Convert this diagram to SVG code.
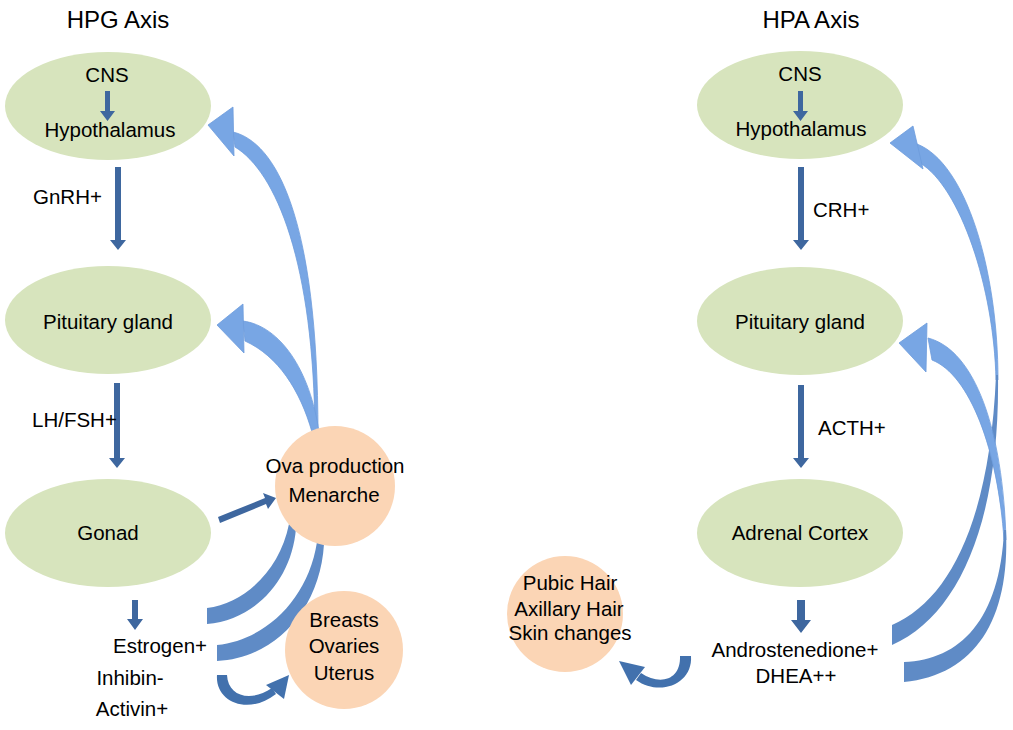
<svg xmlns="http://www.w3.org/2000/svg" width="1013" height="730" viewBox="0 0 1013 730">
<defs>
<style>
text{font-family:"Liberation Sans",Arial,sans-serif;font-size:20.5px;fill:#000;}
.c{text-anchor:middle;}
.t{font-size:24px;}
.ell{fill:#d7e4bd;}
.circ{fill:#fbd5b5;}
.dk{fill:#3e679f;}
.lt{fill:#78a6e4;stroke:#6d9cdc;stroke-width:0.8;}
.md{fill:#5f8bc6;}
.u{fill:#4271ad;}
</style>
</defs>
<rect width="1013" height="730" fill="#fff"/>
<text class="c t" x="118" y="28">HPG Axis</text>
<text class="c t" x="811" y="28">HPA Axis</text>

<g id="connectors">
<!-- left light blue feedback arrows -->
<path class="lt" d="M233,132 C275,142 318,215 318,435 L315,435 C314,262 276,172 235,147 Z"/>
<polygon class="lt" points="208,125 233,107 234,156"/>
<path class="lt" d="M243,321 C280,326 310,370 319,432 L312,432 C300,390 278,356 245,341 Z"/>
<polygon class="lt" points="217,325 243,304 244,353"/>
<!-- left darker bands -->
<path class="md" d="M207,608 C245,603 280,570 289,524 L296,528 C292,580 255,620 207,624 Z"/>
<path class="md" d="M217,645 C265,640 308,600 317,542 L324,544 C320,610 275,658 217,661 Z"/>
<!-- left U arrow -->
<path class="u" d="M217,675 C215,702 248,716 276,694 L272,688 C250,703 228,696 227,675 Z"/>
<polygon class="u" points="289,675 266,685 284,699"/>
<!-- right U arrow -->
<path class="u" d="M691,656 C693,684 660,697 636,680 L641,673 C660,686 681,680 680,656 Z"/>
<polygon class="u" points="619,661 645,667 631,685"/>
<!-- right feedback arrows -->
<path class="lt" d="M917,144 C966,163 998,270 998,380 L996,380 C994,287 960,187 920,163 Z"/>
<path class="md" d="M998,375 C1000,520 960,615 892,645 L892,625 C950,600 990,520 996,375 Z"/>
<polygon class="lt" points="890,143 913,126 923,169"/>
<path class="lt" d="M928,338 C975,350 1003,430 1006,540 L1004,540 C998,450 970,375 932,360 Z"/>
<path class="md" d="M1006,530 C1010,620 975,675 904,682 L904,662 C960,660 1000,620 1004,530 Z"/>
<polygon class="lt" points="899,343 927,323 926,372"/>
<!-- straight dark arrows -->
<polygon class="dk" points="115,167 121,167 121,240 126,240 118,250 110,240 115,240"/>
<polygon class="dk" points="114,383 120,383 120,458 125,458 117,468 109,458 114,458"/>
<polygon class="dk" points="132,600 138,600 138,619 143,619 135,630 127,619 132,619"/>
<polygon class="dk" points="218,517 265,498 263,493 276,498 268,509 266,504 220,523"/>
<polygon class="dk" points="798,167 804,167 804,240 809,240 801,250 793,240 798,240"/>
<polygon class="dk" points="798,385 804,385 804,458 809,458 801,468 793,458 798,458"/>
<polygon class="dk" points="797,600 805,600 805,620 811,620 801,633 791,620 797,620"/>
</g>

<g id="hpg-hypothalamus"><ellipse class="ell" cx="108" cy="106" rx="103" ry="54"/><text class="c" x="107" y="82">CNS</text><polygon class="dk" points="105,91 110,91 110,111 115,111 107.5,121 100,111 105,111"/><text class="c" x="110" y="137">Hypothalamus</text></g>
<g id="hpg-pituitary"><ellipse class="ell" cx="108" cy="320" rx="103" ry="54"/><text class="c" x="108" y="329">Pituitary gland</text></g>
<g id="hpg-gonad"><ellipse class="ell" cx="108" cy="533" rx="103" ry="54"/><text class="c" x="108" y="540">Gonad</text></g>
<g id="ova"><circle class="circ" cx="335" cy="486" r="60"/><text class="c" x="335" y="473">Ova production</text><text class="c" x="334" y="502">Menarche</text></g>
<g id="breasts"><circle class="circ" cx="344" cy="650" r="59"/><text class="c" x="344" y="627">Breasts</text><text class="c" x="344" y="653">Ovaries</text><text class="c" x="344" y="680">Uterus</text></g>
<g id="hpa-hypothalamus"><ellipse class="ell" cx="800" cy="105" rx="103" ry="54"/><text class="c" x="800" y="81">CNS</text><polygon class="dk" points="798,91 803,91 803,111 808,111 800.5,121 793,111 798,111"/><text class="c" x="801" y="136">Hypothalamus</text></g>
<g id="hpa-pituitary"><ellipse class="ell" cx="800" cy="321" rx="103" ry="54"/><text class="c" x="800" y="329">Pituitary gland</text></g>
<g id="hpa-adrenal"><ellipse class="ell" cx="800" cy="533" rx="103" ry="54"/><text class="c" x="800" y="540">Adrenal Cortex</text></g>
<g id="pubic"><circle class="circ" cx="565" cy="614" r="58"/><text class="c" x="570" y="590">Pubic Hair</text><text class="c" x="569" y="616">Axillary Hair</text><text class="c" x="570" y="640">Skin changes</text></g>

<g id="labels">
<text x="33" y="204">GnRH+</text>
<text x="32" y="427">LH/FSH+</text>
<text class="c" x="160" y="653">Estrogen+</text>
<text class="c" x="130" y="685">Inhibin-</text>
<text class="c" x="132" y="716">Activin+</text>
<text x="813" y="217">CRH+</text>
<text x="818" y="435">ACTH+</text>
<text class="c" x="795" y="657">Androstenedione+</text>
<text class="c" x="796" y="683">DHEA++</text>
</g>
</svg>
